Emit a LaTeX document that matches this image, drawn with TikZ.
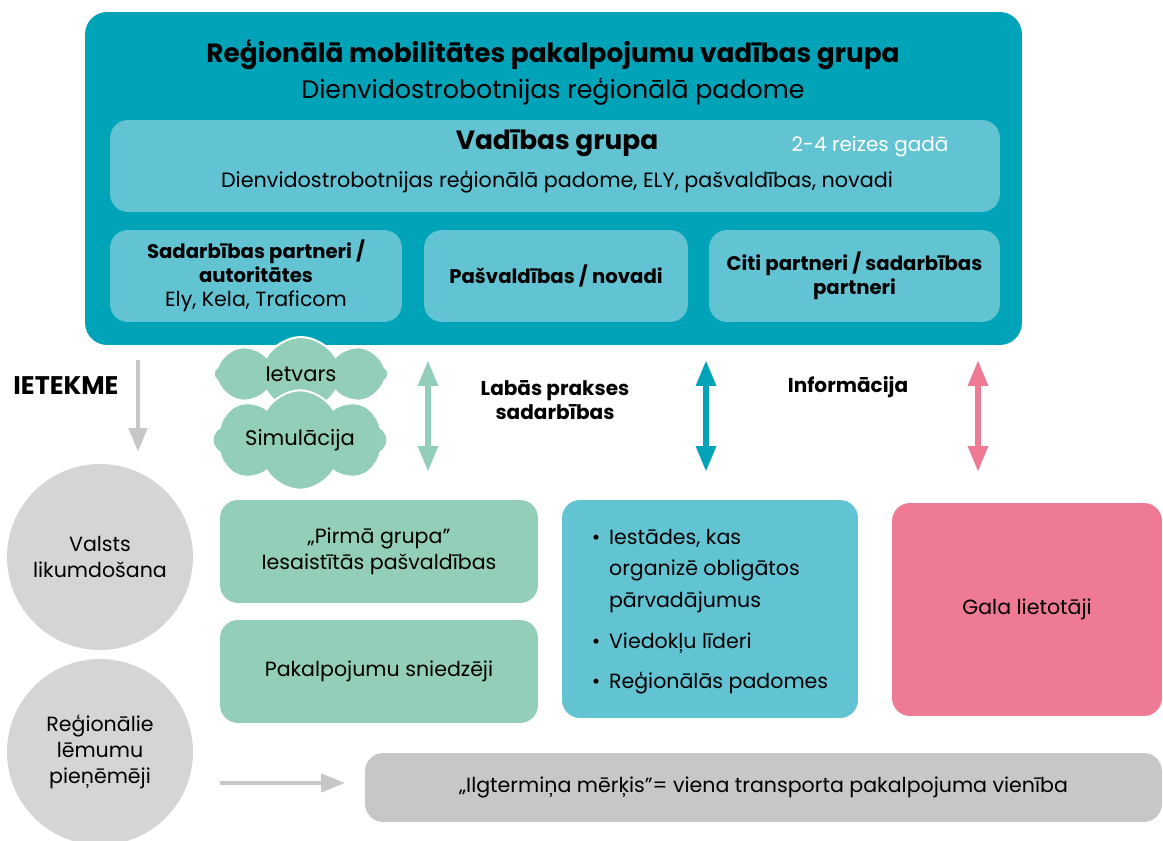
\documentclass[tikz,border=0pt]{standalone}
\usepackage{fontspec}
\setmainfont{Poppins}
\usetikzlibrary{shapes.symbols,arrows.meta}

\definecolor{tealdark}{HTML}{00A3B8}
\definecolor{teallight}{HTML}{62C3D3}
\definecolor{mint}{HTML}{93CEB8}
\definecolor{rose}{HTML}{EE7A93}
\definecolor{greycircle}{HTML}{D5D5D5}
\definecolor{greybox}{HTML}{C7C7C7}

\begin{document}
\begin{tikzpicture}[x=0.02cm,y=-0.02cm,
    box/.style={rectangle,rounded corners=0.36cm,minimum width=#1,inner sep=0pt,align=center,font=\fontsize{11.7}{14.5}\selectfont},
    sub box/.style={box=#1,fill=teallight,minimum height=1.84cm,font=\fontsize{11.2}{13.6}\selectfont},
    circle node/.style={circle,fill=greycircle,minimum size=3.72cm,inner sep=0pt,align=center,font=\fontsize{11.7}{14.7}\selectfont},
    cloud node/.style={cloud,cloud puffs=8,cloud puff arc=120,aspect=2.2,fill=mint,draw=white,line width=0.04cm,minimum width=3.5cm,minimum height=1.48cm,inner sep=0pt,font=\fontsize{12}{14}\selectfont},
    label text/.style={font=\bfseries\fontsize{11.4}{13.6}\selectfont,align=center},
    big arrow/.style={line width=0.12cm,{Triangle[width=0.38cm,length=0.52cm]}-{Triangle[width=0.38cm,length=0.52cm]}},
    grey arrow/.style={draw=greybox,line width=0.09cm,-{Triangle[width=0.36cm,length=0.48cm]}}]

  \useasboundingbox (0,0) rectangle (1163,841);

  % top group
  \node[box=18.74cm,rounded corners=0.44cm,fill=tealdark,minimum height=6.66cm] (main) at (553.5,178.5) {};
  \node[font=\bfseries\fontsize{15}{17}\selectfont] (title) at (553,55) {Reģionālā mobilitātes pakalpojumu vadības grupa};
  \node[font=\fontsize{14.4}{16}\selectfont] (subtitle) at (553,92) {Dienvidostrobotnijas reģionālā padome};

  \node[sub box=17.8cm] (vadiba) at (555,166) {};
  \node[font=\bfseries\fontsize{15}{17}\selectfont] (vadtitle) at (557,143) {Vadības grupa};
  \node[font=\fontsize{11.4}{13}\selectfont,text=white] (reizes) at (870,147) {2-4 reizes gadā};
  \node[font=\fontsize{11.8}{13}\selectfont] (vadtext) at (557,182) {Dienvidostrobotnijas reģionālā padome, ELY, pašvaldības, novadi};

  \node[sub box=5.84cm] (partneri) at (256,276) {\textbf{Sadarbības partneri /}\\\textbf{autoritātes}\\{\fontsize{11.7}{13.6}\selectfont Ely, Kela, Traficom}};
  \node[sub box=5.28cm,font=\bfseries\fontsize{11.2}{13.6}\selectfont] (novadi) at (556,276) {Pašvaldības / novadi};
  \node[sub box=5.82cm,font=\bfseries\fontsize{11.2}{13.6}\selectfont] (citi) at (854.5,276) {Citi partneri / sadarbības\\partneri};

  % clouds
  \node[cloud node] (ietvars) at (301,374) {Ietvars};
  \node[cloud node] (simulacija) at (300,440) {Simulācija};

  % middle labels and arrows
  \node[font=\bfseries\fontsize{14.5}{16}\selectfont] (ietekme) at (66,386) {IETEKME};
  \node[label text] (prakses) at (555,400) {Labās prakses\\sadarbības};
  \node[label text] (informacija) at (848,387) {Informācija};

  \coordinate (ietekme top) at (138,360);
  \coordinate (ietekme end) at (138,452);
  \draw[grey arrow] (ietekme top) -- (ietekme end);

  \coordinate (green top) at (428,360);
  \coordinate (green end) at (428,472);
  \coordinate (teal top) at (706,360);
  \coordinate (teal end) at (706,472);
  \coordinate (rose top) at (978,360);
  \coordinate (rose end) at (978,472);
  \draw[big arrow,mint] (green top) -- (green end);
  \draw[big arrow,tealdark] (teal top) -- (teal end);
  \draw[big arrow,rose] (rose top) -- (rose end);

  % lower row
  \node[circle node] (valsts) at (100,557) {Valsts\\likumdošana};
  \node[circle node] (lemumi) at (100,752) {Reģionālie\\lēmumu\\pieņēmēji};

  \node[box=6.36cm,fill=mint,minimum height=2.06cm] (pirma) at (379,551.5) {„Pirmā grupa”\\Iesaistītās pašvaldības};
  \node[box=6.36cm,fill=mint,minimum height=2.06cm] (sniedzeji) at (379,671.5) {Pakalpojumu sniedzēji};

  \node[box=5.92cm,fill=teallight,minimum height=4.36cm] (iestades) at (710,609)
    {\renewcommand{\arraystretch}{1.45}%
     \begin{tabular}{@{}l@{\hspace{5pt}}l@{}}
     \textbullet & Iestādes, kas\\[-3pt]
                 & organizē obligātos\\[-3pt]
                 & pārvadājumus\\[2pt]
     \textbullet & Viedokļu līderi\\[2pt]
     \textbullet & Reģionālās padomes
     \end{tabular}};

  \node[box=5.4cm,fill=rose,minimum height=4.26cm] (gala) at (1027,609.5) {Gala lietotāji};

  \node[box=15.94cm,fill=greybox,minimum height=1.38cm] (merkis) at (763.5,787.5) {„Ilgtermiņa mērķis”= viena transporta pakalpojuma vienība};

  \coordinate (merkis start) at (220,783);
  \coordinate (merkis end) at (345,783);
  \draw[grey arrow] (merkis start) -- (merkis end);

\end{tikzpicture}
\end{document}
